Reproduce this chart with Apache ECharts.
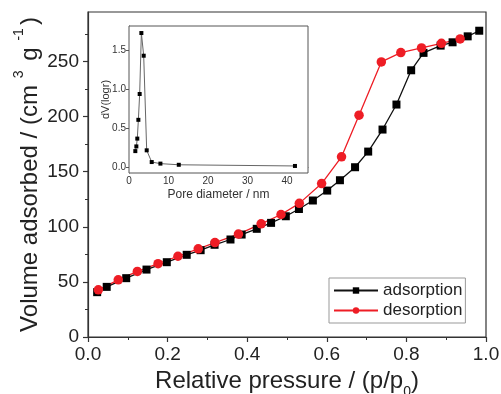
<!DOCTYPE html>
<html>
<head>
<meta charset="utf-8">
<script src="https://cdn.jsdelivr.net/npm/echarts@6/dist/echarts.min.js"></script>
<style>
  html, body {margin: 0; padding: 0; background: #fff;}
  #chart {width: 501px; height: 394px;}
</style>
</head>
<body>
<div id="chart"></div>
<script>
// main isotherm
var adsX = [0.023, 0.047, 0.096, 0.147, 0.198, 0.248, 0.283, 0.318, 0.358, 0.386, 0.424, 0.460, 0.497, 0.530,
  0.565, 0.601, 0.633, 0.671, 0.704, 0.740, 0.775, 0.812, 0.843, 0.886, 0.916, 0.954, 0.983];
var adsY = [40.7, 45.5, 53.4, 61.2, 67.9, 74.6, 78.8, 83.7, 88.5, 93.0, 98.2, 103.6, 109.6, 116.2,
  123.9, 132.9, 142.3, 154.1, 168.3, 188.3, 211.0, 242.1, 257.9, 264.5, 267.5, 272.9, 278.0];
var desX = [0.935, 0.888, 0.838, 0.786, 0.737, 0.681, 0.637, 0.587, 0.531, 0.485, 0.435, 0.378, 0.319,
  0.277, 0.226, 0.176, 0.124, 0.076, 0.026];
var desY = [270.6, 266.6, 262.4, 258.2, 249.7, 201.3, 163.5, 139.3, 121.3, 111.2, 102.7, 93.4, 85.7,
  80.0, 73.3, 66.6, 59.5, 51.9, 42.8];
var xTicks = [0, 0.2, 0.4, 0.6, 0.8, 1.0];
var yTicks = [0, 50, 100, 150, 200, 250];
var yMinor = [25, 75, 125, 175, 225, 275];

// inset: pore size distribution
var poreX = [1.6, 1.86, 2.1, 2.37, 2.7, 3.13, 3.72, 4.48, 5.75, 7.95, 12.6, 42.0];
var poreY = [0.21, 0.27, 0.37, 0.61, 0.94, 1.72, 1.43, 0.22, 0.07, 0.05, 0.035, 0.02];
var insetXTicks = [0, 10, 20, 30, 40];
var insetYTicks = [0, 0.5, 1.0, 1.5];

function zip(a, b) {
  return a.map(function (v, i) { return [v, b[i]]; });
}

var font = "'Liberation Sans', Arial, sans-serif";
var ink = '#222';
var axisCol = '#333';

var chart = echarts.init(document.getElementById('chart'));
chart.setOption({
  animation: false,
  textStyle: {fontFamily: font, color: ink},
  grid: [
    {left: 88, right: 15, top: 12, bottom: 57, show: true, borderColor: axisCol, borderWidth: 1.2,
      containLabel: false, outerBoundsMode: 'none'},
    {left: 129, right: 193, top: 26, bottom: 221, show: true, borderColor: '#555', borderWidth: 1,
      backgroundColor: '#fff', z: 5, containLabel: false, outerBoundsMode: 'none'}
  ],
  legend: {
    orient: 'vertical', left: 329, top: 278,
    padding: [4, 3, 4, 4], itemGap: 3,
    itemWidth: 44, itemHeight: 8,
    borderColor: '#999', borderWidth: 1,
    textStyle: {fontSize: 17, color: ink, fontFamily: font},
    data: ['adsorption', 'desorption']
  },
  xAxis: [
    {
      type: 'value', gridIndex: 0, min: 0, max: 1, interval: 0.2,
      splitLine: {show: false},
      axisLine: {lineStyle: {color: axisCol, width: 1.2}},
      axisTick: {length: 5, lineStyle: {color: axisCol, width: 1.2}},
      minorTick: {show: true, splitNumber: 2, length: 3, lineStyle: {color: axisCol}},
      axisLabel: {fontSize: 19, color: ink, margin: 8,
        formatter: function (v) { return v.toFixed(1); }},
      name: 'Relative pressure / (p/p{sub|0})',
      nameLocation: 'middle', nameGap: 30, nameMoveOverlap: false,
      nameTextStyle: {fontSize: 24, color: ink, lineHeight: 28,
        rich: {sub: {fontSize: 14, verticalAlign: 'bottom', lineHeight: 20, padding: [0, 0, -4, 0]}}}
    },
    {
      type: 'value', gridIndex: 1, min: 0, max: 45.3,
      splitLine: {show: false},
      axisLine: {lineStyle: {color: '#555'}},
      axisTick: {length: 3, customValues: insetXTicks, lineStyle: {color: '#555'}},
      axisLabel: {fontSize: 10, color: '#333', margin: 3, customValues: insetXTicks},
      name: 'Pore diameter / nm', nameLocation: 'middle', nameGap: 16, nameMoveOverlap: false,
      nameTextStyle: {fontSize: 12, color: '#333'}
    }
  ],
  yAxis: [
    {
      type: 'value', gridIndex: 0, min: 0, max: 295, position: 'left',
      splitLine: {show: false},
      axisLine: {show: true, lineStyle: {color: axisCol, width: 1.2}},
      axisTick: {show: true, length: 5, customValues: yTicks, lineStyle: {color: axisCol, width: 1.2}},
      axisLabel: {fontSize: 19, color: ink, margin: 9, customValues: yTicks},
      name: 'Volume adsorbed / (cm{sup| 3} g{sup| -1})',
      nameLocation: 'middle', nameRotate: 90, nameGap: 44, nameMoveOverlap: false,
      nameTextStyle: {fontSize: 24, color: ink, lineHeight: 28,
        rich: {sup: {fontSize: 14, verticalAlign: 'top', lineHeight: 20, padding: [-4, 3, 0, 3]}}}
    },
    {
      type: 'value', gridIndex: 0, min: 0, max: 295, position: 'left',
      splitLine: {show: false},
      axisLine: {show: false},
      axisTick: {show: true, length: 3, customValues: yMinor, lineStyle: {color: axisCol}},
      axisLabel: {show: false}
    },
    {
      type: 'value', gridIndex: 1, min: -0.07, max: 1.81,
      splitLine: {show: false},
      axisLine: {show: true, lineStyle: {color: '#555'}},
      axisTick: {show: true, length: 3, customValues: insetYTicks, lineStyle: {color: '#555'}},
      axisLabel: {fontSize: 10, color: '#333', margin: 3, customValues: insetYTicks,
        formatter: function (v) { return v.toFixed(1); }},
      name: 'dV(logr)', nameLocation: 'middle', nameRotate: 90, nameGap: 18, nameMoveOverlap: false,
      nameTextStyle: {fontSize: 11, color: '#333'}
    }
  ],
  series: [
    {
      name: 'adsorption', type: 'line', xAxisIndex: 0, yAxisIndex: 0,
      data: zip(adsX, adsY),
      symbol: 'rect', symbolSize: 8,
      itemStyle: {color: '#000'},
      lineStyle: {color: '#111', width: 1.3}
    },
    {
      name: 'desorption', type: 'line', xAxisIndex: 0, yAxisIndex: 0,
      data: zip(desX, desY),
      symbol: 'circle', symbolSize: 9.5,
      itemStyle: {color: '#ee1d25'},
      lineStyle: {color: '#ee1d25', width: 1.3}
    },
    {
      name: 'pore', type: 'line', xAxisIndex: 1, yAxisIndex: 2,
      data: zip(poreX, poreY),
      symbol: 'rect', symbolSize: 4, z: 6,
      itemStyle: {color: '#000'},
      lineStyle: {color: '#666', width: 1}
    }
  ]
});
</script>
</body>
</html>
